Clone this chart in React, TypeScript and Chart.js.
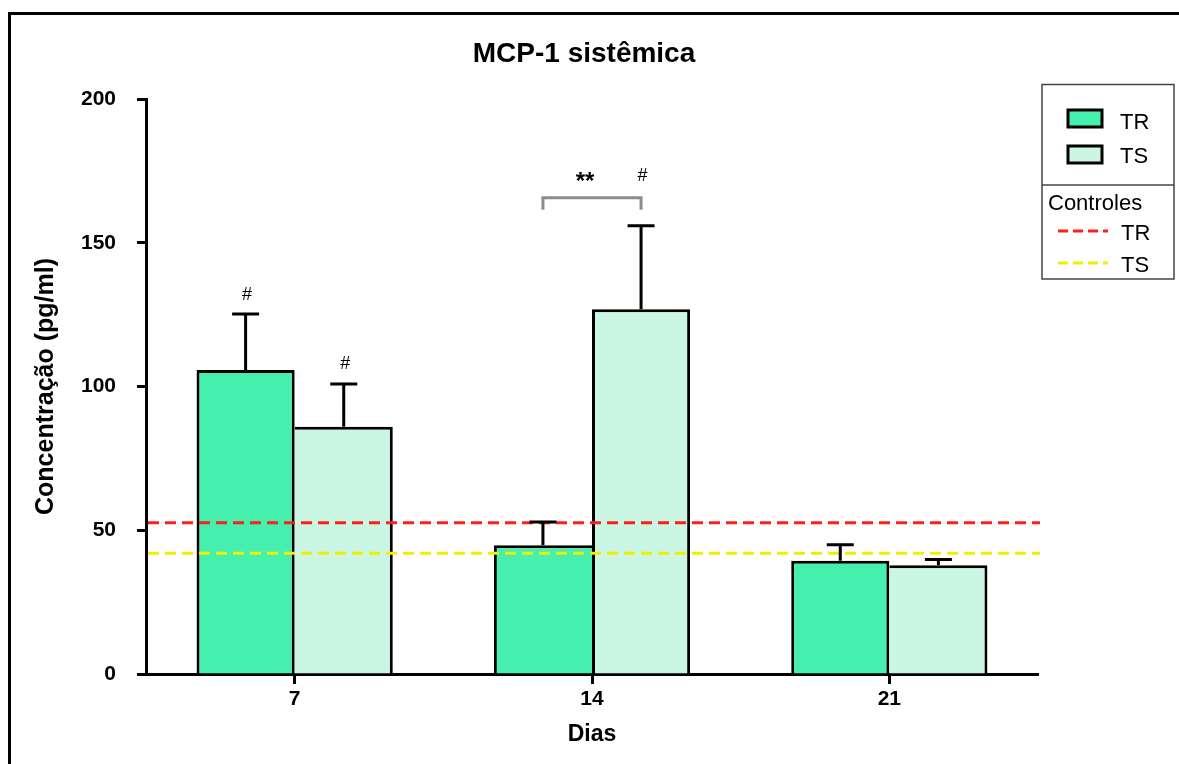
import React, { useEffect, useRef } from 'react';
import { Chart, registerables } from 'chart.js';

Chart.register(...registerables);

// ---------- data ----------
const TITLE = 'MCP-1 sistêmica';
const X_TITLE = 'Dias';
const Y_TITLE = 'Concentração (pg/ml)';
const days = ['7', '14', '21'];
const seriesLabels = ['TR', 'TS'];
const trMeans = [105.7, 44.8, 39.4];
const trErrors = [19.5, 8.1, 5.6];
const tsMeans = [86.0, 126.9, 37.8];
const tsErrors = [14.9, 29.0, 2.0];
const trMarks = ['#', '', ''];
const tsMarks = ['#', '#', ''];
const comparisonDays = ['14'];
const comparisonLabels = ['**'];
const controlsTitle = 'Controles';
const controlLabels = ['TR', 'TS'];
const controlValues = [52.6, 42.0];
const yMin = 0;
const yMax = 200;
const yStep = 50;

// ---------- style ----------
const FONT = "'Liberation Sans', Arial, Helvetica, sans-serif";
const TR_COLOR = '#45F0AE';
const TS_COLOR = '#C9F7E4';
const CONTROL_COLORS = ['#FF1E1E', '#F2EE00'];
const seriesColors = [TR_COLOR, TS_COLOR];

const means = [trMeans, tsMeans];
const errors = [trErrors, tsErrors];
const marks = [trMarks, tsMarks];

const overlayPlugin = {
  id: 'overlay',
  afterDatasetsDraw(chart: any) {
    const { ctx, chartArea } = chart;
    const y = chart.scales.y;
    ctx.save();

    // control reference lines
    controlValues.forEach((v, i) => {
      const py = y.getPixelForValue(v);
      ctx.strokeStyle = CONTROL_COLORS[i];
      ctx.lineWidth = 3;
      ctx.setLineDash([11, 6]);
      ctx.beginPath();
      ctx.moveTo(chartArea.left + 2, py);
      ctx.lineTo(chartArea.right + 2, py);
      ctx.stroke();
    });
    ctx.setLineDash([]);

    // error bars
    const capTops: number[][] = [[], []];
    const barXs: number[][] = [[], []];
    chart.data.datasets.forEach((_ds: any, di: number) => {
      const meta = chart.getDatasetMeta(di);
      meta.data.forEach((bar: any, i: number) => {
        const top = y.getPixelForValue(means[di][i] + errors[di][i]);
        capTops[di][i] = top;
        barXs[di][i] = bar.x;
        ctx.strokeStyle = '#000';
        ctx.lineWidth = 3;
        ctx.lineCap = 'butt';
        ctx.beginPath();
        ctx.moveTo(bar.x, bar.y);
        ctx.lineTo(bar.x, top);
        ctx.moveTo(bar.x - 13.5, top);
        ctx.lineTo(bar.x + 13.5, top);
        ctx.stroke();
      });
    });

    // comparison brackets
    const bracketTopByIndex: Record<number, number> = {};
    comparisonDays.forEach((d, ci) => {
      const i = days.indexOf(d);
      if (i < 0) return;
      const x1 = barXs[0][i];
      const x2 = barXs[1][i];
      const legBottom = Math.min(capTops[0][i], capTops[1][i]) - 16;
      const top = legBottom - 12;
      bracketTopByIndex[i] = top;
      ctx.strokeStyle = '#8C8C8C';
      ctx.lineWidth = 3;
      ctx.lineJoin = 'miter';
      ctx.beginPath();
      ctx.moveTo(x1, legBottom);
      ctx.lineTo(x1, top);
      ctx.lineTo(x2, top);
      ctx.lineTo(x2, legBottom);
      ctx.stroke();
      ctx.fillStyle = '#000';
      ctx.font = `bold 24px ${FONT}`;
      ctx.textAlign = 'center';
      ctx.textBaseline = 'alphabetic';
      ctx.fillText(comparisonLabels[ci], (x1 + x2) / 2 - 7, top - 9);
    });

    // significance marks
    ctx.fillStyle = '#000';
    ctx.font = `18px ${FONT}`;
    ctx.textAlign = 'center';
    ctx.textBaseline = 'alphabetic';
    marks.forEach((arr, di) => {
      arr.forEach((m, i) => {
        if (!m) return;
        const base = bracketTopByIndex[i] !== undefined ? bracketTopByIndex[i] - 17 : capTops[di][i] - 14.5;
        ctx.fillText(m, barXs[di][i] + 1.5, base);
      });
    });

    ctx.restore();
  },
  afterDraw(chart: any) {
    const { ctx, chartArea } = chart;
    ctx.save();
    // title
    ctx.fillStyle = '#000';
    ctx.font = `bold 28px ${FONT}`;
    ctx.textAlign = 'center';
    ctx.textBaseline = 'alphabetic';
    ctx.fillText(TITLE, 584, 62);

    // legend box
    const lx = chartArea.right + 4;
    ctx.strokeStyle = '#444';
    ctx.lineWidth = 1.5;
    ctx.strokeRect(lx, 84.5, 132, 194.5);
    ctx.beginPath();
    ctx.moveTo(lx, 185);
    ctx.lineTo(lx + 132, 185);
    ctx.stroke();

    ctx.font = `22px ${FONT}`;
    ctx.textAlign = 'left';
    const swY = [110, 146];
    const txtY = [129, 163];
    seriesLabels.forEach((lab, i) => {
      ctx.fillStyle = seriesColors[i];
      ctx.fillRect(lx + 26, swY[i], 34, 17);
      ctx.strokeStyle = '#000';
      ctx.lineWidth = 3;
      ctx.strokeRect(lx + 26, swY[i], 34, 17);
      ctx.fillStyle = '#000';
      ctx.fillText(lab, lx + 78, txtY[i]);
    });
    ctx.fillText(controlsTitle, lx + 6, 210);
    const lineY = [231, 263];
    const ctrlTxtY = [240, 272];
    controlLabels.forEach((lab, i) => {
      ctx.strokeStyle = CONTROL_COLORS[i];
      ctx.lineWidth = 3;
      ctx.setLineDash([10, 5]);
      ctx.beginPath();
      ctx.moveTo(lx + 16, lineY[i]);
      ctx.lineTo(lx + 66, lineY[i]);
      ctx.stroke();
      ctx.setLineDash([]);
      ctx.fillStyle = '#000';
      ctx.fillText(lab, lx + 79, ctrlTxtY[i]);
    });
    ctx.restore();
  },
};

function sharedBorder(di: number) {
  return (c: any) => {
    const i = c.dataIndex;
    const mine = means[di][i];
    const other = means[1 - di][i];
    const shared = di === 0 ? mine >= other : mine > other;
    return di === 0
      ? { top: 3, left: 3, right: shared ? 3 : 0, bottom: 0 }
      : { top: 3, right: 3, left: shared ? 3 : 0, bottom: 0 };
  };
}

export default function App() {
  const ref = useRef<HTMLCanvasElement>(null);
  useEffect(() => {
    const chart = new Chart(ref.current as HTMLCanvasElement, {
      type: 'bar',
      data: {
        labels: days,
        datasets: [
          {
            label: seriesLabels[0],
            data: trMeans,
            backgroundColor: TR_COLOR,
            borderColor: '#000',
            borderWidth: sharedBorder(0) as any,
            borderSkipped: false as any,
            categoryPercentage: 0.66,
            barPercentage: 1.0,
          },
          {
            label: seriesLabels[1],
            data: tsMeans,
            backgroundColor: TS_COLOR,
            borderColor: '#000',
            borderWidth: sharedBorder(1) as any,
            borderSkipped: false as any,
            categoryPercentage: 0.66,
            barPercentage: 1.0,
          },
        ],
      },
      options: {
        animation: false,
        responsive: false,
        devicePixelRatio: 1,
        layout: { padding: { top: 99, right: 141, bottom: 0, left: 0 } },
        plugins: {
          legend: { display: false },
          title: { display: false },
          tooltip: { enabled: false },
        },
        scales: {
          x: {
            offset: true,
            afterFit: (s: any) => {
              s.height = 90;
            },
            grid: {
              display: true,
              drawOnChartArea: false,
              offset: false,
              drawTicks: true,
              tickLength: 10,
              tickWidth: 3,
              tickColor: '#000',
            },
            border: { display: true, color: '#000', width: 3 },
            ticks: {
              color: '#000',
              padding: 3,
              font: { family: FONT, size: 21, weight: 'bold' },
            },
            title: {
              display: true,
              text: X_TITLE,
              color: '#000',
              padding: { top: 0, bottom: 16 },
              font: { family: FONT, size: 23, weight: 'bold' },
            },
          },
          y: {
            min: yMin,
            max: yMax,
            afterFit: (s: any) => {
              s.width = 146;
            },
            grid: {
              display: true,
              drawOnChartArea: false,
              drawTicks: true,
              tickLength: 9,
              tickWidth: 3,
              tickColor: '#000',
            },
            border: { display: true, color: '#000', width: 3 },
            ticks: {
              stepSize: yStep,
              color: '#000',
              padding: 21,
              font: { family: FONT, size: 21, weight: 'bold' },
            },
            title: {
              display: true,
              text: Y_TITLE,
              color: '#000',
              padding: { top: 31, bottom: 0 },
              font: { family: FONT, size: 25, weight: 'bold' },
            },
          },
        },
      },
      plugins: [overlayPlugin],
    } as any);
    return () => chart.destroy();
  }, []);

  return (
    <div
      style={{
        position: 'absolute',
        left: 0,
        top: 0,
        width: 1179,
        height: 764,
        background: '#fff',
        overflow: 'hidden',
      }}
    >
      <div
        style={{
          position: 'absolute',
          left: 8,
          top: 12,
          width: 1171,
          height: 752,
          borderTop: '3px solid #000',
          borderLeft: '3px solid #000',
          boxSizing: 'border-box',
        }}
      />
      <canvas ref={ref} width={1179} height={764} style={{ position: 'absolute', left: 0, top: 0 }} />
    </div>
  );
}
